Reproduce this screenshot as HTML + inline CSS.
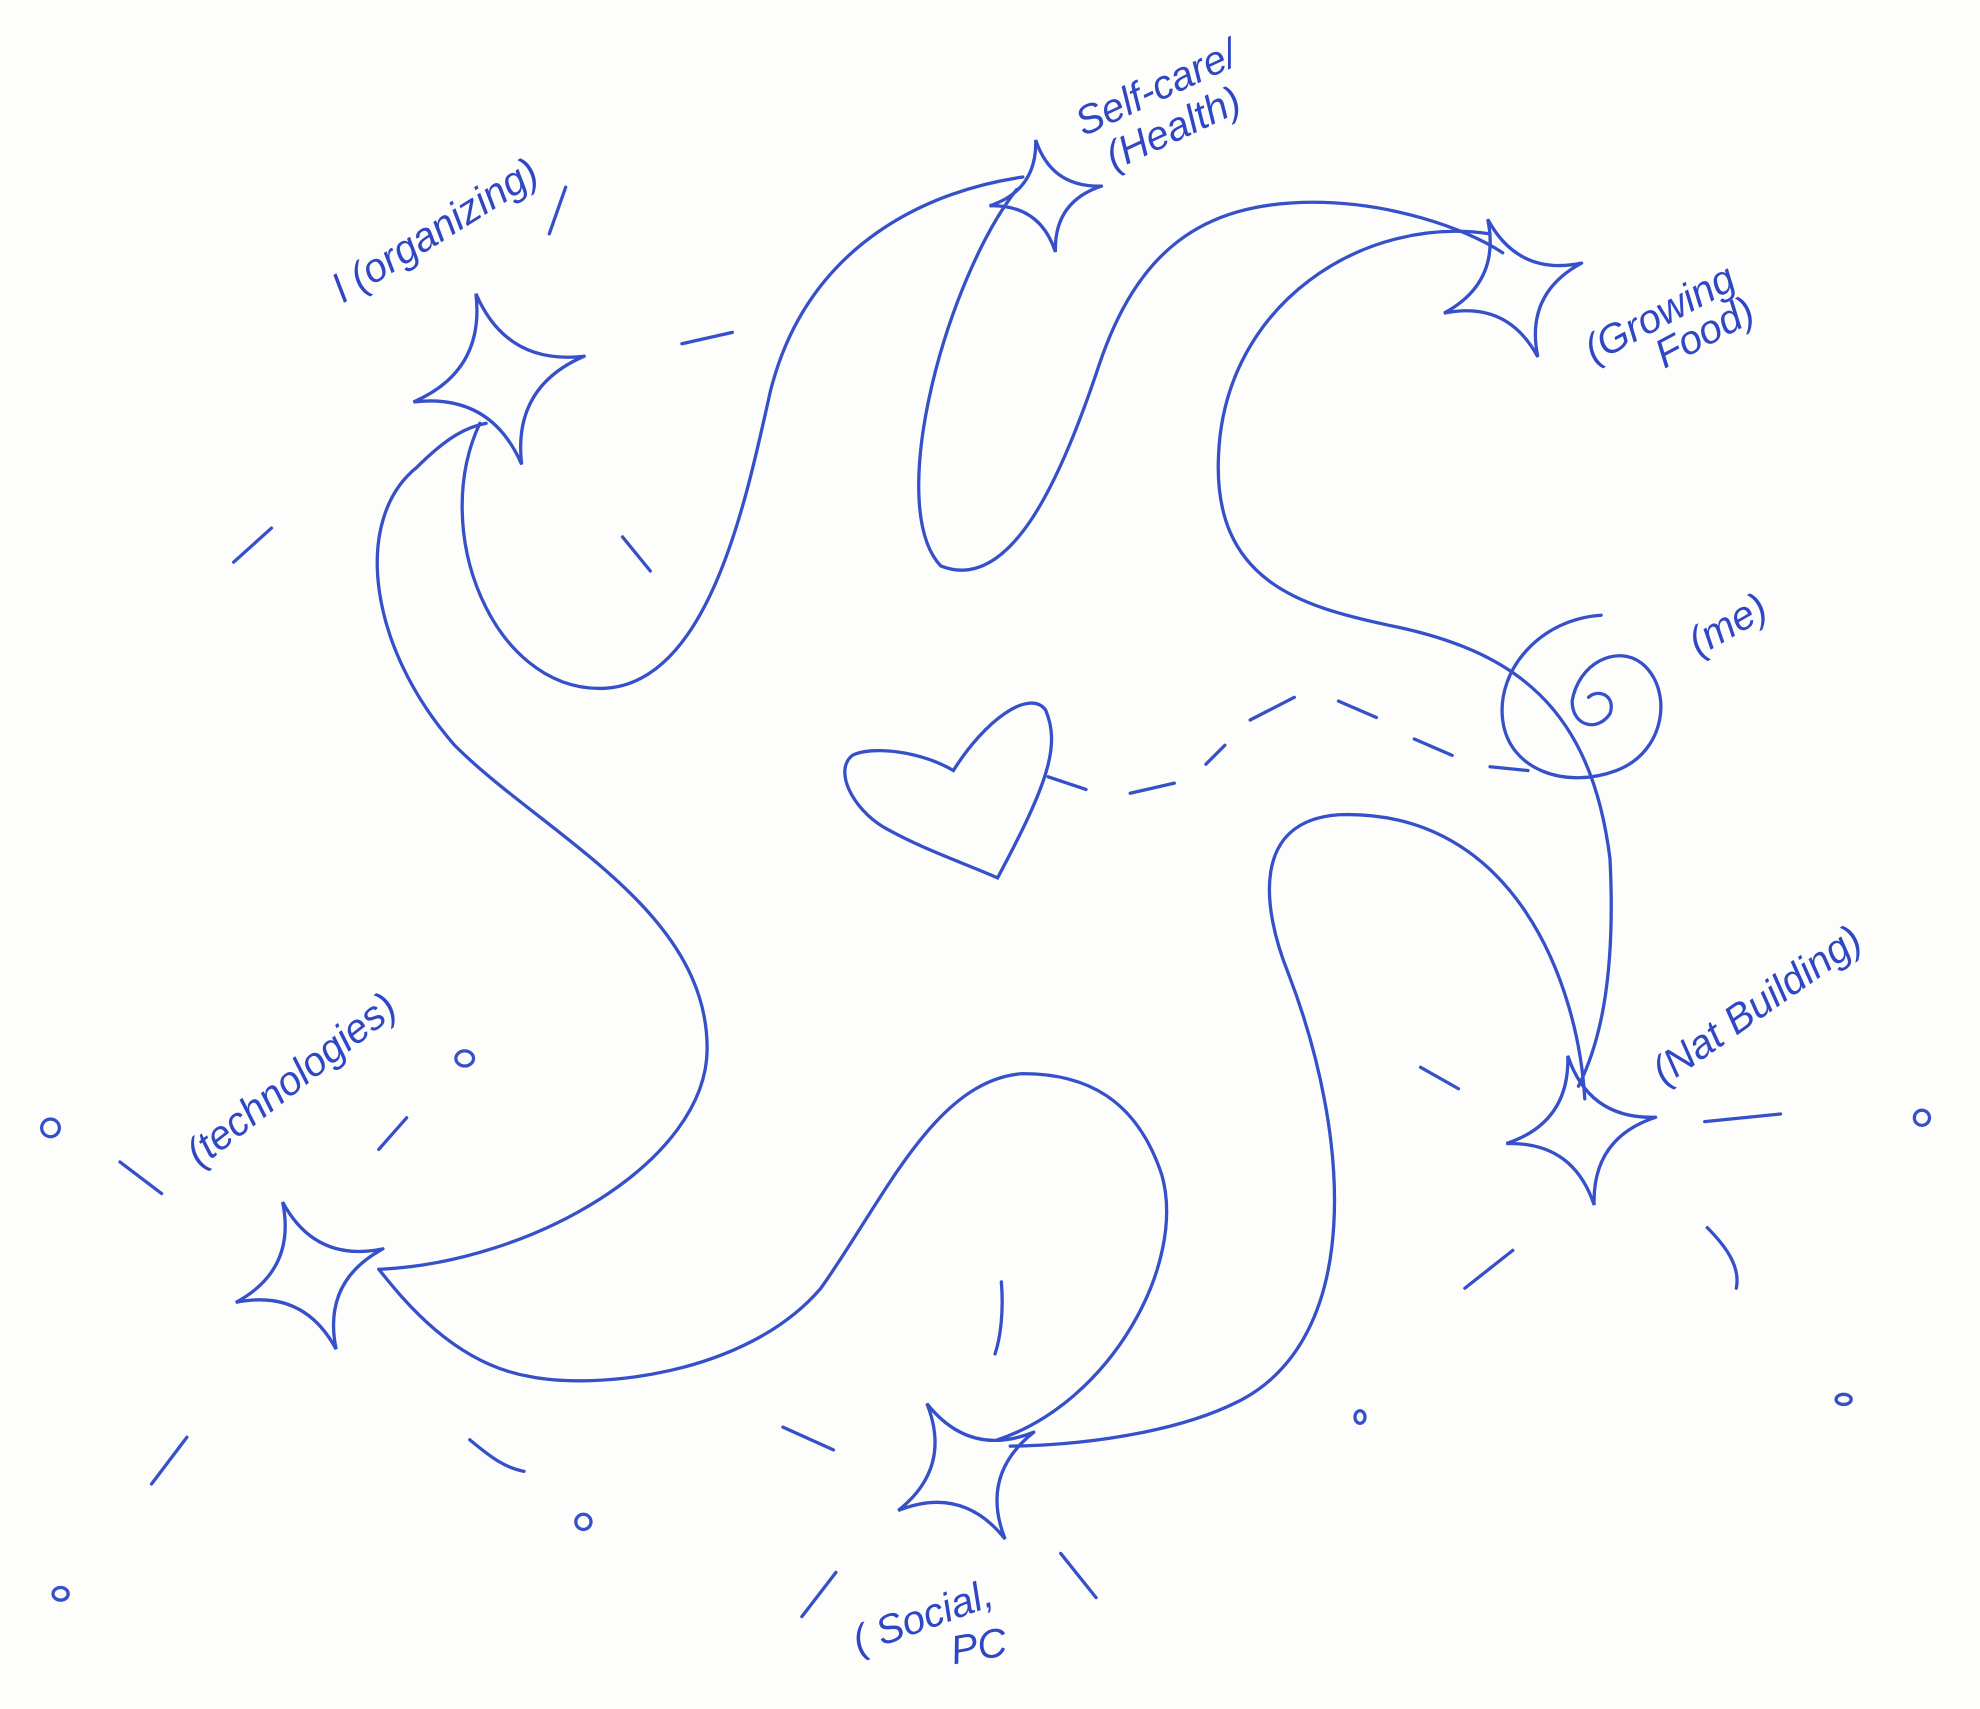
<!DOCTYPE html>
<html><head><meta charset="utf-8">
<style>
html,body{margin:0;padding:0;background:#fdfdfb;}
svg{display:block}
text{font-family:"Liberation Sans",sans-serif;fill:#2f47c4;font-size:32px;font-style:italic}
</style></head>
<body>
<svg id="s" width="1980" height="1709" viewBox="0 0 1568 1353" xmlns="http://www.w3.org/2000/svg">
<g fill="none" stroke="#3550c8" stroke-width="2.6" stroke-linecap="round" id="g">
<path d="M380,335 C340,420 390,545 475,545 C560,545 590,400 610,310 C640,190 740,150 810,140"/>
<path d="M805,150 C750,220 700,400 745,448 C800,470 840,380 870,290 C900,200 950,160 1040,160 C1100,160 1160,180 1190,200"/>
<path d="M1180,185 C1080,170 970,240 965,360 C960,460 1030,480 1100,495 C1200,515 1260,560 1275,680 C1280,780 1265,830 1250,860"/>
<path d="M1255,870 C1250,780 1200,640 1060,645 C990,650 1000,720 1020,770 C1070,900 1080,1060 980,1110 C920,1140 830,1145 800,1145"/>
<path d="M790,1140 C880,1110 940,1000 920,930 C900,870 860,850 810,850 C740,855 700,950 650,1020 C590,1090 470,1100 420,1090 C360,1080 320,1030 300,1005"/>
<path d="M300,1005 C420,1000 560,920 560,830 C560,720 430,660 360,590 C290,510 280,410 330,370 C355,345 370,338 385,335"/>
<path d="M790,695 C830,620 840,590 828,562 C815,545 780,570 755,610 C730,595 690,590 675,598 C660,610 675,640 700,655 C730,672 760,682 790,695 Z"/>
<path d="M830,615 L860,625 M895,628 L930,620 M955,605 L970,590 M990,570 L1025,552 M1060,555 L1090,568 M1120,585 L1150,598 M1180,607 L1210,610"/>
<path d="M1268,487 C1220,490 1185,530 1190,570 C1195,610 1240,625 1280,610 C1320,595 1325,545 1300,525 C1280,510 1250,525 1245,555 C1245,575 1265,580 1275,565 C1280,550 1265,545 1258,552"/>
<path d="M540,272 L580,263 M435,185 L448,148 M185,445 L215,418 M493,425 L515,452 M300,910 L322,885 M95,920 L128,945 M120,1175 L148,1138 M372,1140 C390,1155 400,1162 415,1165 M620,1130 L660,1148 M635,1280 L662,1245 M840,1230 L868,1265 M793,1015 C795,1040 792,1060 788,1072 M1160,1020 L1198,990 M1350,888 L1410,882 M1352,972 C1370,990 1378,1005 1375,1020 M1125,845 L1155,862"/>
<ellipse cx="368" cy="838" rx="7" ry="6"/><ellipse cx="40" cy="893" rx="7" ry="7"/><ellipse cx="1522" cy="885" rx="6" ry="6"/>
<ellipse cx="462" cy="1205" rx="6" ry="6"/><ellipse cx="48" cy="1262" rx="6" ry="5"/><ellipse cx="1077" cy="1122" rx="4" ry="5"/><ellipse cx="1460" cy="1108" rx="6" ry="4"/>
</g>
<text transform="translate(272,240) rotate(-32)">l (organizing)</text>
<text transform="translate(858,108) rotate(-25)">Self-care/</text>
<text transform="translate(882,135) rotate(-25)">(Health)</text>
<text transform="translate(1262,288) rotate(-28)">(Growing</text>
<text transform="translate(1318,292) rotate(-28)">Food)</text>
<text transform="translate(1345,520) rotate(-30)">(me)</text>
<text transform="translate(1318,860) rotate(-35)">(Nat Building)</text>
<text transform="translate(158,925) rotate(-38)">(technologies)</text>
<text transform="translate(680,1310) rotate(-20)">( Social,</text>
<text transform="translate(755,1318) rotate(-10)">PC</text>
</svg>
<script>
var g=document.getElementById('g');
function star(cx,cy,r,rot){
 var d='',pts=[];
 for(var i=0;i<4;i++){var a=(rot+i*90)*Math.PI/180;pts.push([cx+r*Math.cos(a),cy+r*Math.sin(a)]);}
 d='M'+pts[0].join(',');
 for(var i=1;i<=4;i++){var p=pts[i%4];var a=(rot+(i-0.5)*90)*Math.PI/180;var c=[cx+r*0.18*Math.cos(a),cy+r*0.18*Math.sin(a)];d+=' Q'+c.join(',')+' '+p.join(',');}
 var e=document.createElementNS('http://www.w3.org/2000/svg','path');e.setAttribute('d',d);g.appendChild(e);
}
star(395,300,70,-15);star(828,155,45,-10);star(1198,228,58,-20);star(1252,895,60,-10);star(765,1165,62,-30);star(245,1010,62,-20);
</script>
</body></html>
